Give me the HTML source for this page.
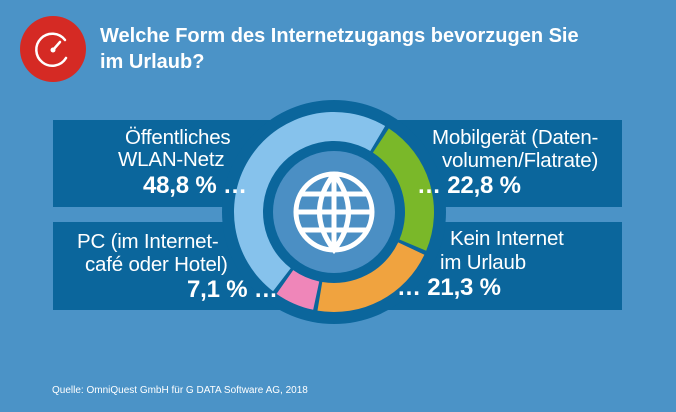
<!DOCTYPE html>
<html><head><meta charset="utf-8"><style>
body{margin:0;width:676px;height:412px;background:#4b93c7;font-family:"Liberation Sans",sans-serif;overflow:hidden;position:relative;color:#fff}
.p{position:absolute;background:#0b669c}
.t{position:absolute;font-size:20.5px;line-height:21px;white-space:nowrap;letter-spacing:-0.2px}
.v{font-weight:bold;font-size:24px;line-height:24px}
</style></head><body>
<div class="p" style="left:53px;top:120px;width:290px;height:87px"></div>
<div class="p" style="left:53px;top:222px;width:290px;height:88px"></div>
<div class="p" style="left:334px;top:120px;width:288px;height:87px"></div>
<div class="p" style="left:334px;top:222px;width:288px;height:88px"></div>
<svg width="676" height="412" style="position:absolute;left:0;top:0">
<circle cx="53" cy="49" r="33" fill="#d52a24"/>
<g stroke="#fff" stroke-width="2.5" fill="none" stroke-linecap="round">
<path d="M65 40 A16 16 0 1 0 66 58"/><line x1="53" y1="50" x2="60" y2="42"/></g>
<circle cx="53" cy="50" r="2.5" fill="#fff"/>
<circle cx="334" cy="212" r="112" fill="#0b669c"/>
<g id="ring"></g>
<circle cx="334" cy="212" r="61" fill="#4b8fc4"/>
<g stroke="#fff" stroke-width="5" fill="none">
<circle cx="334" cy="212" r="38"/><line x1="296" y1="212" x2="372" y2="212"/>
<line x1="334" y1="174" x2="334" y2="250"/>
<path d="M334 174 Q305 212 334 250 Q363 212 334 174"/>
<line x1="302" y1="194" x2="366" y2="194"/><line x1="302" y1="230" x2="366" y2="230"/></g>
</svg>
<div class="t" style="left:100px;top:23px;font-weight:bold;font-size:20px;line-height:26px;letter-spacing:0">Welche Form des Internetzugangs bevorzugen Sie<br>im Urlaub?</div>
<div>
<div class="t" style="left:125px;top:127px">Öffentliches</div>
<div class="t" style="left:118px;top:149px">WLAN-Netz</div>
<div class="t v" style="left:143px;top:174px">48,8 % …</div></div>
<div>
<div class="t" style="left:77px;top:231px">PC (im Internet-</div>
<div class="t" style="left:85px;top:254px">café oder Hotel)</div>
<div class="t v" style="left:187px;top:278px">7,1 % …</div></div>
<div>
<div class="t" style="left:432px;top:127px">Mobilgerät (Daten-</div>
<div class="t" style="left:442px;top:150px">volumen/Flatrate)</div>
<div class="t v" style="left:417px;top:174px">… 22,8 %</div></div>
<div>
<div class="t" style="left:450px;top:228px">Kein Internet</div>
<div class="t" style="left:440px;top:252px">im Urlaub</div>
<div class="t v" style="left:397px;top:276px">… 21,3 %</div></div>
<div class="t" style="left:52px;top:385px;font-size:10px;line-height:12px;letter-spacing:0">Quelle: OmniQuest GmbH für G DATA Software AG, 2018</div>
<script>
const categories=["Mobilgerät","Kein Internet","PC","Öffentliches WLAN"];
const values=[22.8,21.3,7.1,48.8];
const colors=["#7ab829","#f0a33f","#ef86b9","#86c2ec"];
const g=document.getElementById('ring');
const cx=334,cy=212,ro=100,ri=71,gap=2.5;
function pt(a,r){const t=(a-90)*Math.PI/180;return [cx+r*Math.cos(t),cy+r*Math.sin(t)];}
let a=32;const tot=values.reduce((s,v)=>s+v,0);
values.forEach((v,i)=>{const s=a+gap/2,e=a+v/tot*360-gap/2;a+=v/tot*360;
const l=(e-s)>180?1:0;const p1=pt(s,ro),p2=pt(e,ro),p3=pt(e,ri),p4=pt(s,ri);
const p=document.createElementNS('http://www.w3.org/2000/svg','path');
p.setAttribute('d',`M${p1} A${ro} ${ro} 0 ${l} 1 ${p2} L${p3} A${ri} ${ri} 0 ${l} 0 ${p4}Z`);
p.setAttribute('fill',colors[i]);


g.appendChild(p);});
</script>
</body></html>
